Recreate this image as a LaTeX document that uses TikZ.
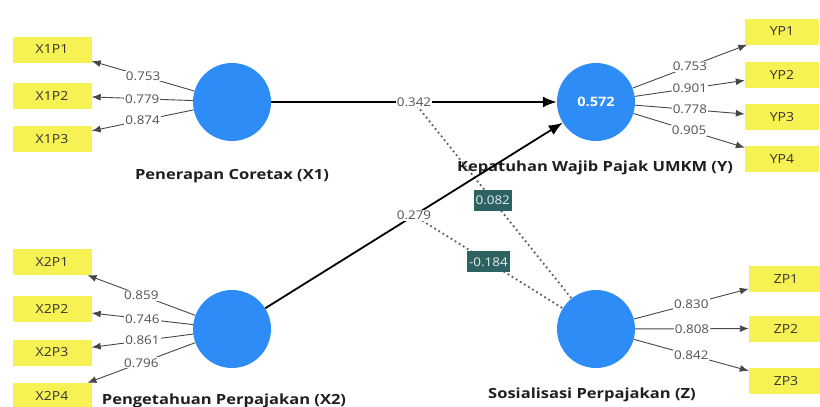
\documentclass[tikz,border=0pt]{standalone}
\usepackage{fontspec}
\setmainfont{Open Sans}
\newfontfamily\wfont[FakeStretch=1.12]{Open Sans}
\newfontfamily\nfont[FakeStretch=1.18]{Open Sans}
\usetikzlibrary{arrows.meta,calc}
\definecolor{lvblue}{RGB}{45,140,245}
\definecolor{indyel}{RGB}{246,242,84}
\definecolor{modteal}{RGB}{44,98,98}
\begin{document}
\begin{tikzpicture}[x=1pt,y=-1pt,
  lv/.style={circle,fill=lvblue,minimum size=78pt,inner sep=0pt},
  ind/.style={rectangle,fill=indyel,minimum width=79pt,minimum height=26pt,inner sep=0pt,font=\wfont\fontsize{12.5}{14}\selectfont,text=black!80},
  indr/.style={ind,minimum width=74pt},
  lvname/.style={font=\nfont\fontsize{14}{16}\selectfont\bfseries,text=black!88},
  load/.style={draw=black!72,line width=0.9pt,-{Latex[length=9pt,width=7pt]}},
  pathar/.style={draw=black,line width=1.8pt,-{Latex[length=14pt,width=11pt]}},
  val/.style={fill=white,inner sep=1pt,font=\wfont\fontsize{12}{13}\selectfont,text=black!68},
  modline/.style={draw=black!62,line width=1.8pt,dash pattern=on 1.8pt off 3pt},
  modlbl/.style={fill=modteal,text=white!85!gray,inner sep=2pt,minimum height=21pt,font=\wfont\fontsize{12}{13}\selectfont}
]
\useasboundingbox (0,0) rectangle (820,407);

% latent variables
\node[lv] (X1) at (232,102) {};
\node[lv] (Y) at (596,102) {\textcolor{white}{\wfont\fontsize{13}{15}\selectfont\bfseries 0.572}};
\node[lv] (X2) at (232,329) {};
\node[lv] (Z) at (596,329) {};

% names
\node[lvname] (nX1) at (232,176) {Penerapan Coretax (X1)};
\node[lvname] (nX2) at (224,401) {Pengetahuan Perpajakan (X2)};
\node[lvname] (nY) at (595,168) {Kepatuhan Wajib Pajak UMKM (Y)};
\node[lvname] (nZ) at (592,395) {Sosialisasi Perpajakan (Z)};

% indicators
\node[ind] (X1P1) at (52,49.5) {X1P1};
\node[ind] (X1P2) at (52,95.5) {X1P2};
\node[ind] (X1P3) at (52,139) {X1P3};
\node[ind] (X2P1) at (52,262) {X2P1};
\node[ind] (X2P2) at (52,308.5) {X2P2};
\node[ind] (X2P3) at (52,352.5) {X2P3};
\node[ind] (X2P4) at (52,396) {X2P4};
\node[indr] (YP1) at (782,31.5) {YP1};
\node[indr] (YP2) at (782,75) {YP2};
\node[indr] (YP3) at (782,117) {YP3};
\node[indr] (YP4) at (782,159) {YP4};
\node[indr] (ZP1) at (786,279) {ZP1};
\node[indr] (ZP2) at (786,328.5) {ZP2};
\node[indr] (ZP3) at (786,381) {ZP3};

% loadings
\draw[load] (X1) -- node[val] {0.753} (X1P1);
\draw[load] (X1) -- node[val] {0.779} (X1P2);
\draw[load] (X1) -- node[val] {0.874} (X1P3);
\draw[load] (X2) -- node[val] {0.859} (X2P1);
\draw[load] (X2) -- node[val] {0.746} (X2P2);
\draw[load] (X2) -- node[val] {0.861} (X2P3);
\draw[load] (X2) -- node[val] {0.796} (X2P4);
\draw[load] (Y) -- node[val] {0.753} (YP1);
\draw[load] (Y) -- node[val] {0.901} (YP2);
\draw[load] (Y) -- node[val] {0.778} (YP3);
\draw[load] (Y) -- node[val] {0.905} (YP4);
\draw[load] (Z) -- node[val] {0.830} (ZP1);
\draw[load] (Z) -- node[val] {0.808} (ZP2);
\draw[load] (Z) -- node[val] {0.842} (ZP3);

% moderating effects
\coordinate (m1) at ($(X1)!0.5!(Y)$);
\coordinate (m2) at ($(X2)!0.5!(Y)$);
\draw[modline] (m1) -- node[modlbl] {0.082} (Z);
\draw[modline] (m2) -- node[modlbl] {-0.184} (Z);

% structural paths
\draw[pathar] (X1) -- node[val,pos=0.5] {0.342} (Y);
\draw[pathar] (X2) -- node[val,pos=0.5] {0.279} (Y);
\end{tikzpicture}
\end{document}
